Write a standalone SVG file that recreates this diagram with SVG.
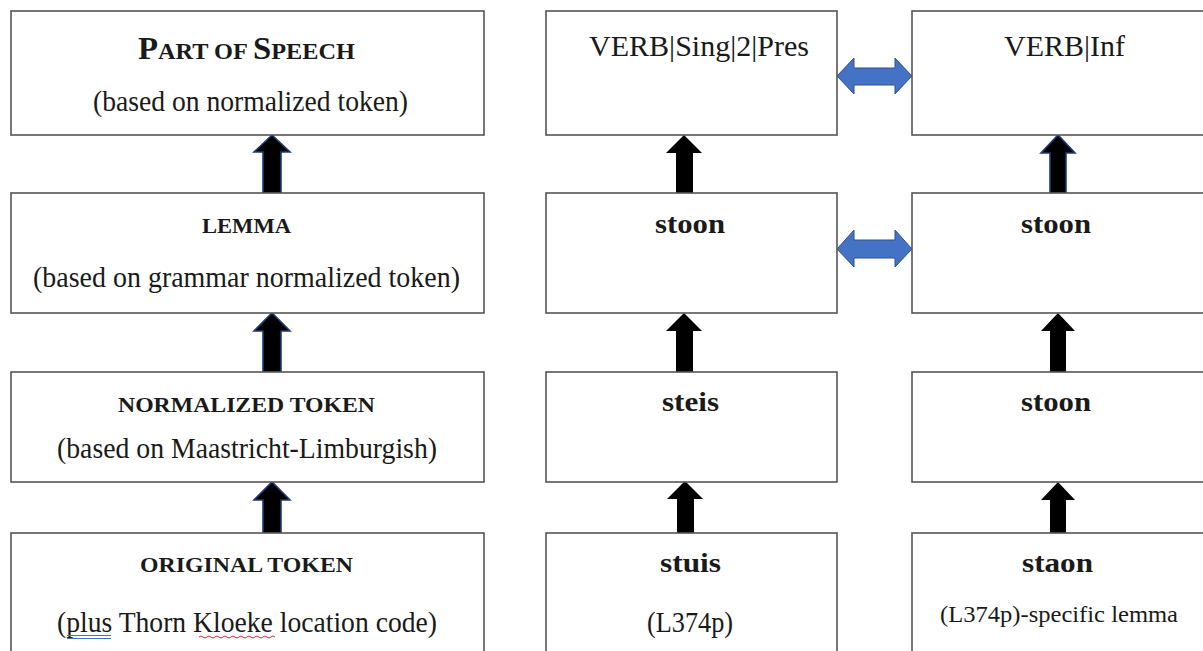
<svg xmlns="http://www.w3.org/2000/svg" width="1203" height="651" viewBox="0 0 1203 651">
<style>
  .box{fill:#ffffff;stroke:#555555;stroke-width:1.6}
  text{font-family:"Liberation Serif","DejaVu Serif",serif;fill:#1a1a1a}
  .sub{font-size:29px}
  .sc{font-size:20px;font-weight:bold}
  .hd{font-size:30px}
  .bd{font-size:28px;font-weight:bold}
  .up{fill:#000000}
  .upn{fill:#000000;stroke:#1f3a72;stroke-width:1.6;stroke-linejoin:miter}
  .dbl{fill:#4472c4;stroke:#2f528f;stroke-width:1}
</style>
<rect width="1203" height="651" fill="#ffffff"/>

<g id="connectors">
  <!-- left column up arrows -->
  <path class="upn" d="M263,193 V152 H254 L272,135 L290,152 H281 V193 Z"/>
  <path class="upn" d="M263,372 V331 H254 L272,313 L290,331 H281 V372 Z"/>
  <path class="upn" d="M263,533 V500 H254 L272,482 L290,500 H281 V533 Z"/>
  <!-- middle column up arrows -->
  <path class="up" d="M676,193 V153 H666 L684,135 L702,153 H693 V193 Z"/>
  <path class="up" d="M676,372 V331 H666 L684,313 L702,331 H693 V372 Z"/>
  <path class="up" d="M677,533 V499 H667 L685,481 L703,499 H694 V533 Z"/>
  <!-- right column up arrows -->
  <path class="upn" d="M1050,193 V153 H1041 L1058,135 L1075,153 H1066 V193 Z"/>
  <path class="up" d="M1050,372 V331 H1041 L1058,313 L1075,331 H1066 V372 Z"/>
  <path class="up" d="M1050,533 V500 H1041 L1058,482 L1075,500 H1066 V533 Z"/>
  <!-- blue double arrows -->
  <path class="dbl" d="M837,76 L854,58 V68 H895 V58 L912,76 L895,94 V85 H854 V94 Z"/>
  <path class="dbl" d="M837,249 L854,230 V240 H895 V230 L912,249 L895,267 V258 H854 V267 Z"/>
</g>

<g id="pos">
  <rect class="box" x="11" y="11" width="473" height="124"/>
  <text x="138" y="59" textLength="217" lengthAdjust="spacingAndGlyphs" font-weight="bold"><tspan font-size="31">P</tspan><tspan font-size="23">ART OF </tspan><tspan font-size="31">S</tspan><tspan font-size="23">PEECH</tspan></text>
  <text class="sub" x="93" y="111" textLength="315" lengthAdjust="spacingAndGlyphs">(based on normalized token)</text>
</g>

<g id="lemma">
  <rect class="box" x="11" y="193" width="473" height="120"/>
  <text class="sc" x="202" y="233" textLength="89" lengthAdjust="spacingAndGlyphs">LEMMA</text>
  <text class="sub" x="33" y="287" textLength="427" lengthAdjust="spacingAndGlyphs">(based on grammar normalized token)</text>
</g>

<g id="normalized">
  <rect class="box" x="11" y="372" width="473" height="110"/>
  <text class="sc" x="118" y="412" textLength="257" lengthAdjust="spacingAndGlyphs">NORMALIZED TOKEN</text>
  <text class="sub" x="57" y="458" textLength="380" lengthAdjust="spacingAndGlyphs">(based on Maastricht-Limburgish)</text>
</g>

<g id="original">
  <rect class="box" x="11" y="533" width="473" height="130"/>
  <text class="sc" x="140" y="572" textLength="213" lengthAdjust="spacingAndGlyphs">ORIGINAL TOKEN</text>
  <text class="sub" x="57" y="632" textLength="380" lengthAdjust="spacingAndGlyphs">(plus Thorn Kloeke location code)</text>
  <path d="M67,635.5 H111 M67,638.5 H111" stroke="#4472c4" stroke-width="1" fill="none"/>
  <path d="M199,637 q2,-2 4,0 t4,0 t4,0 t4,0 t4,0 t4,0 t4,0 t4,0 t4,0 t4,0 t4,0 t4,0 t4,0 t4,0 t4,0 t4,0 t4,0 t4,0 t4,0" stroke="#e03030" stroke-width="1" fill="none"/>
</g>

<g id="verb-sing">
  <rect class="box" x="546" y="11" width="291" height="124"/>
  <text class="hd" x="589" y="56" textLength="220" lengthAdjust="spacingAndGlyphs">VERB|Sing|2|Pres</text>
</g>

<g id="stoon-mid">
  <rect class="box" x="546" y="193" width="291" height="120"/>
  <text class="bd" x="655" y="233" textLength="70" lengthAdjust="spacingAndGlyphs">stoon</text>
</g>

<g id="steis">
  <rect class="box" x="546" y="372" width="291" height="110"/>
  <text class="bd" x="662" y="411" textLength="57" lengthAdjust="spacingAndGlyphs">steis</text>
</g>

<g id="stuis">
  <rect class="box" x="546" y="533" width="291" height="130"/>
  <text class="bd" x="660" y="572" textLength="61" lengthAdjust="spacingAndGlyphs">stuis</text>
  <text class="sub" x="647" y="632" textLength="86" lengthAdjust="spacingAndGlyphs">(L374p)</text>
</g>

<g id="verb-inf">
  <rect class="box" x="912" y="11" width="300" height="124"/>
  <text class="hd" x="1004" y="56" textLength="121" lengthAdjust="spacingAndGlyphs">VERB|Inf</text>
</g>

<g id="stoon-right-lemma">
  <rect class="box" x="912" y="193" width="300" height="120"/>
  <text class="bd" x="1021" y="233" textLength="70" lengthAdjust="spacingAndGlyphs">stoon</text>
</g>

<g id="stoon-right-norm">
  <rect class="box" x="912" y="372" width="300" height="110"/>
  <text class="bd" x="1021" y="411" textLength="70" lengthAdjust="spacingAndGlyphs">stoon</text>
</g>

<g id="staon">
  <rect class="box" x="912" y="533" width="300" height="130"/>
  <text class="bd" x="1022" y="572" textLength="71" lengthAdjust="spacingAndGlyphs">staon</text>
  <text x="940" y="622" font-size="24" textLength="238" lengthAdjust="spacingAndGlyphs">(L374p)-specific lemma</text>
</g>
</svg>
